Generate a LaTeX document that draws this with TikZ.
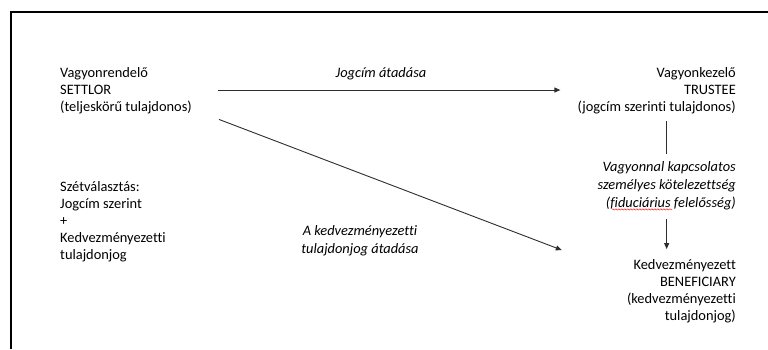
\documentclass[tikz,border=0pt]{standalone}
\usepackage{fontspec}
\setmainfont{Carlito}[Ligatures=NoCommon]
\usepackage{xcolor}
\definecolor{linegray}{RGB}{45,45,45}
\usepackage{tikz}
\usetikzlibrary{arrows.meta, positioning, decorations.pathmorphing}

\begin{document}
\begin{tikzpicture}[
  x=1pt, y=-1pt,
  party/.style={inner sep=2pt, font=\fontsize{14.4}{17}\selectfont},
  duty/.style={inner sep=2pt, align=right, font=\fontsize{14.4}{18}\selectfont\itshape},
  flowlabel/.style={inner sep=1pt, align=center, font=\fontsize{14.4}{18}\selectfont\itshape},
  flow/.style={-{Triangle[length=6pt,width=5pt]}, line width=0.9pt, draw=linegray},
  link/.style={line width=0.9pt, draw=linegray}
]
\useasboundingbox (0,0) rectangle (768,349);

% Frame
\draw[line width=2pt] (11,349) -- (11,12) -- (768,12);

% Nodes
\node[party, anchor=west, align=left] (settlor) at (58,91) {Vagyonrendelő\\SETTLOR\\(teljeskörű tulajdonos)};
\node[party, anchor=east, align=right] (trustee) at (738,91) {Vagyonkezelő\\TRUSTEE\\(jogcím szerinti tulajdonos)};
\node[duty, anchor=east] (obligation) at (738,186) {Vagyonnal kapcsolatos\\személyes kötelezettség\\(fiduciárius felelősség)};
\node[party, anchor=east, align=right] (beneficiary) at (738,291) {Kedvezményezett\\BENEFICIARY\\(kedvezményezetti\\tulajdonjog)};
\node[party, anchor=west, align=left] (split) at (58,222) {Szétválasztás:\\Jogcím szerint\\+\\Kedvezményezetti\\tulajdonjog};

% Flows
\draw[flow, shorten <=24pt, shorten >=15pt] ([yshift=1pt]settlor.east) -- ([yshift=1pt]trustee.west);
\node[flowlabel] (titlelabel) at (381,74) {Jogcím átadása};

\draw[flow] ([shift={(25,3)}]settlor.south east) -- ([shift={(-63,-7)}]beneficiary.north west);
\node[flowlabel] (benlabel) at (360,241) {A kedvezményezetti\\tulajdonjog átadása};

\draw[link, shorten <=5pt, shorten >=6pt] (trustee.south -| obligation.north) -- (obligation.north);
\draw[flow, shorten <=7pt, shorten >=8pt] (obligation.south) -- (obligation.south |- beneficiary.north);

% spelling mark under the word
\draw[red, line width=0.4pt, decorate, decoration={snake, amplitude=0.7pt, segment length=3pt}]
  ([shift={(-126,-3)}]obligation.south east) -- ([shift={(-66,-3)}]obligation.south east);

\end{tikzpicture}
\end{document}
